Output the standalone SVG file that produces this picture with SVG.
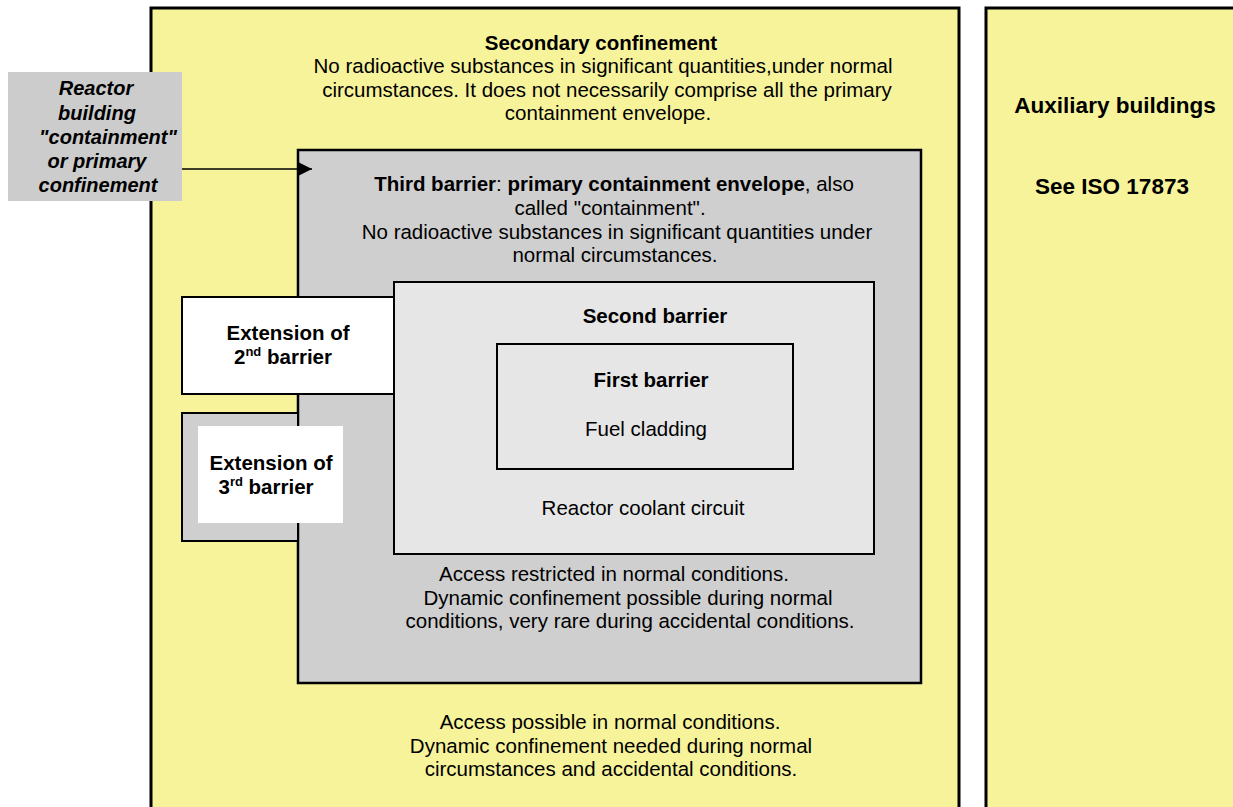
<svg xmlns="http://www.w3.org/2000/svg" width="1233" height="807" viewBox="0 0 1233 807">
<defs>
<style>
text{font-family:"Liberation Sans",Arial,sans-serif;font-size:20.5px;fill:#000;text-anchor:middle}
.b{font-weight:bold}
.bi{font-weight:bold;font-style:italic;font-size:20px}
.aux{font-weight:bold;font-size:22.5px}
.sup{font-size:13px}
.yel{fill:#f7f39b;stroke:#000;stroke-width:3}
</style>
<marker id="arr" viewBox="0 0 10 10" refX="10" refY="5" markerWidth="24" markerHeight="14" markerUnits="userSpaceOnUse" orient="auto"><path d="M0,0 L10,5 L0,10 Z" fill="#000"/></marker>
</defs>
<rect width="1233" height="807" fill="#fff"/>
<g id="secondary">
<rect class="yel" x="151" y="8" width="808" height="830"/>
<text class="b" x="601" y="50">Secondary confinement</text>
<text x="603" y="73">No radioactive substances in significant quantities,under normal</text>
<text x="607" y="97">circumstances. It does not necessarily comprise all the primary</text>
<text x="608" y="120">containment envelope.</text>
<text x="610" y="729">Access possible in normal conditions.</text>
<text x="611" y="753">Dynamic confinement needed during normal</text>
<text x="611" y="776">circumstances and accidental conditions.</text>
</g>
<g id="auxiliary">
<rect class="yel" x="986" y="8" width="270" height="830" stroke-width="2"/>
<text class="aux" x="1115" y="113">Auxiliary buildings</text>
<text class="aux" x="1112" y="194">See ISO 17873</text>
</g>
<g id="third-barrier">
<rect x="298" y="150" width="623" height="533" fill="#cfcfcf" stroke="#000" stroke-width="2.5"/>
<text x="614" y="191"><tspan class="b">Third barrier</tspan>: <tspan class="b">primary containment envelope</tspan>, also</text>
<text x="610" y="215">called "containment".</text>
<text x="617" y="239">No radioactive substances in significant quantities under</text>
<text x="615" y="262">normal circumstances.</text>
<text x="614" y="581">Access restricted in normal conditions.</text>
<text x="628" y="605">Dynamic confinement possible during normal</text>
<text x="630" y="628">conditions, very rare during accidental conditions.</text>
</g>
<g id="ext-third">
<rect x="182" y="413" width="116" height="128" fill="#cfcfcf" stroke="#000" stroke-width="2"/>
<rect x="198" y="426" width="145" height="97" fill="#fff"/>
<text class="b" x="271" y="470">Extension of</text>
<text class="b" x="266" y="494">3<tspan class="sup" dy="-8">rd</tspan><tspan dy="8"> barrier</tspan></text>
</g>
<g id="ext-second">
<rect x="182" y="297" width="212" height="97" fill="#fff" stroke="#000" stroke-width="2"/>
<text class="b" x="288" y="340">Extension of</text>
<text class="b" x="283" y="364">2<tspan class="sup" dy="-8">nd</tspan><tspan dy="8"> barrier</tspan></text>
</g>
<g id="second-barrier">
<rect x="394" y="282" width="480" height="272" fill="#e6e6e6" stroke="#000" stroke-width="2"/>
<text class="b" x="655" y="323">Second barrier</text>
<text x="643" y="515">Reactor coolant circuit</text>
</g>
<g id="first-barrier">
<rect x="497" y="344" width="296" height="125" fill="#e6e6e6" stroke="#000" stroke-width="2"/>
<text class="b" x="651" y="387">First barrier</text>
<text x="646" y="436">Fuel cladding</text>
</g>
<g id="reactor-building">
<rect x="8" y="72" width="174" height="129" fill="#cccccc"/>
<text class="bi" x="96" y="95">Reactor</text>
<text class="bi" x="97" y="120">building</text>
<text class="bi" x="108" y="144">"containment"</text>
<text class="bi" x="97" y="168">or primary</text>
<text class="bi" x="98" y="192">confinement</text>
</g>
<g id="connectors">
<line x1="182" y1="169" x2="312" y2="169" stroke="#000" stroke-width="1.5" marker-end="url(#arr)"/>
</g>
</svg>
